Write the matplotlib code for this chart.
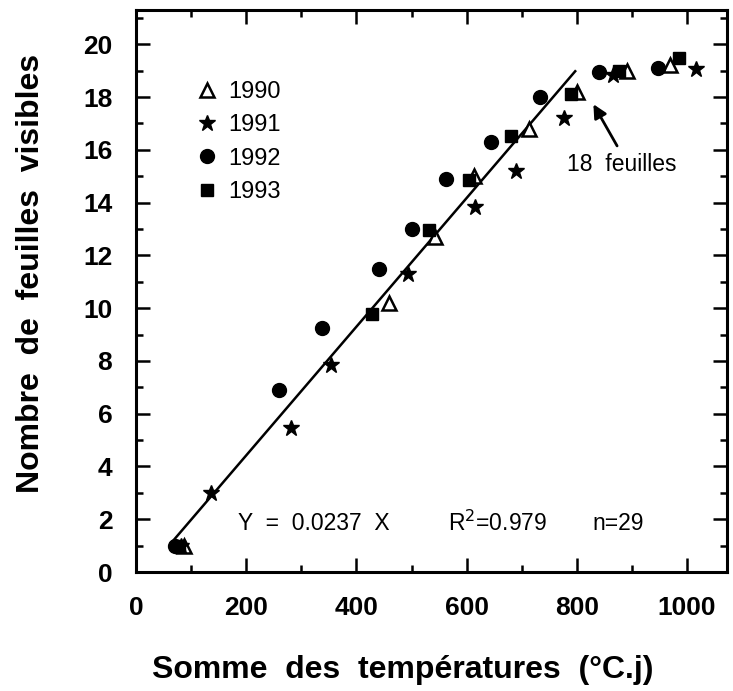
import matplotlib
matplotlib.use("Agg")
import matplotlib.pyplot as plt
from matplotlib.ticker import MultipleLocator

plt.rcParams['font.family'] = ['Liberation Sans', 'DejaVu Sans']

# data (somme des temperatures, nombre de feuilles)
x1990 = [88, 460, 542, 614, 713, 800, 891, 969]
y1990 = [1.0, 10.2, 12.7, 15.0, 16.8, 18.2, 19.0, 19.2]
x1991 = [82, 137, 282, 354, 493, 615, 689, 776, 865, 1016]
y1991 = [1.0, 3.0, 5.45, 7.85, 11.3, 13.85, 15.2, 17.2, 18.85, 19.07]
x1992 = [70, 259, 338, 441, 501, 562, 644, 734, 840, 947]
y1992 = [1.0, 6.9, 9.25, 11.5, 13.0, 14.9, 16.3, 18.0, 18.95, 19.1]
x1993 = [78, 428, 532, 605, 681, 790, 876, 986]
y1993 = [1.0, 9.78, 12.95, 14.85, 16.52, 18.1, 19.0, 19.5]

# regression line end points
fit_x = [68, 797]
fit_y = [1.2, 18.98]

# arrow for "18 feuilles"
arrow_tip = (830, 17.73)
arrow_tail = (873, 16.15)

fig = plt.figure(figsize=(7.33, 6.91), dpi=100)
ax = fig.add_axes([0.1855, 0.1722, 0.806, 0.8133])

ax.plot(fit_x, fit_y, color='black', lw=1.8, zorder=2)

ms = 10
ax.plot(x1990, y1990, ls='none', marker='^', ms=ms, mfc='white', mec='black', mew=1.8, label='1990', zorder=3)
ax.plot(x1991, y1991, ls='none', marker='*', ms=ms + 2, color='black', label='1991', zorder=3)
ax.plot(x1992, y1992, ls='none', marker='o', ms=ms, color='black', label='1992', zorder=3)
ax.plot(x1993, y1993, ls='none', marker='s', ms=ms - 1, color='black', label='1993', zorder=3)

ax.set_xlim(0, 1072)
ax.set_ylim(0, 21.3)
ax.xaxis.set_major_locator(MultipleLocator(200))
ax.xaxis.set_minor_locator(MultipleLocator(100))
ax.yaxis.set_major_locator(MultipleLocator(2))
ax.yaxis.set_minor_locator(MultipleLocator(1))
ax.tick_params(which='both', direction='in', top=True, right=True, width=1.8)
ax.tick_params(which='major', length=10)
ax.tick_params(which='minor', length=5)
ax.tick_params(axis='x', which='major', pad=17, labelsize=19)
ax.tick_params(axis='y', which='major', pad=17, labelsize=19)
for lab in ax.get_xticklabels() + ax.get_yticklabels():
    lab.set_fontweight('bold')
for sp in ax.spines.values():
    sp.set_linewidth(2.2)

ax.set_xlabel('Somme  des  températures  (°C.j)', fontsize=23, fontweight='bold')
ax.set_ylabel('Nombre  de  feuilles  visibles', fontsize=23, fontweight='bold')
ax.xaxis.set_label_coords(0.452, -0.148)
ax.yaxis.set_label_coords(-0.153, 0.532)

ax.legend(loc='upper left', bbox_to_anchor=(0.085, 0.895), frameon=False, fontsize=17,
          handlelength=0.8, handletextpad=0.5, labelspacing=0.48, borderpad=0)

ax.text(186, 1.85, 'Y  =  0.0237  X', fontsize=16.5, va='center', ha='left')
ax.text(566, 1.85, r'R$^2$=0.979', fontsize=16.5, va='center', ha='left')
ax.text(828, 1.85, 'n=29', fontsize=16.5, va='center', ha='left')

ax.text(882, 15.45, '18  feuilles', fontsize=16.5, ha='center', va='center')
ax.annotate('', xy=arrow_tip, xytext=arrow_tail,
            arrowprops=dict(arrowstyle='-|>', color='black', lw=2, mutation_scale=20,
                            shrinkA=0, shrinkB=0))

fig.savefig('out.png', dpi=100)
